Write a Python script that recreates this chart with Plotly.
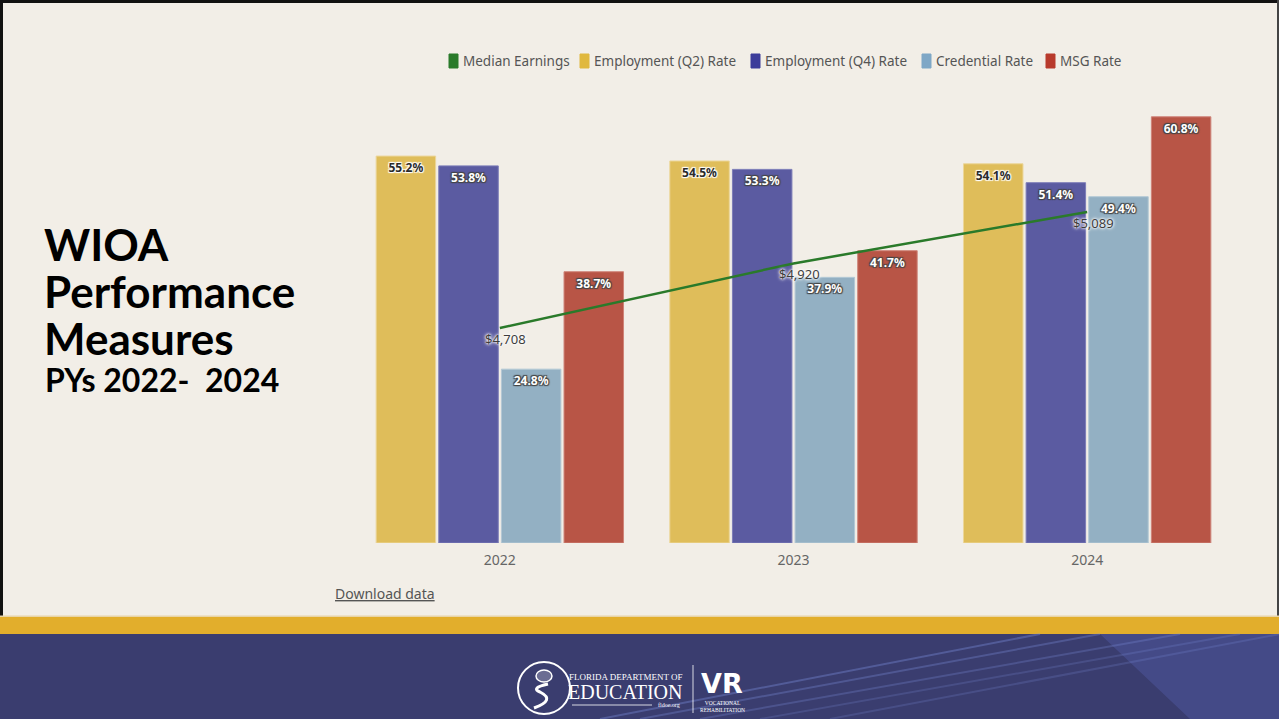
import plotly.graph_objects as go

years = ["2022", "2023", "2024"]
median_earnings = [4708, 4920, 5089]
emp_q2 = [55.2, 54.5, 54.1]
emp_q4 = [53.8, 53.3, 51.4]
credential = [24.8, 37.9, 49.4]
msg = [38.7, 41.7, 60.8]

legend_names = ["Median Earnings", "Employment (Q2) Rate", "Employment (Q4) Rate", "Credential Rate", "MSG Rate"]
series_names = legend_names[1:]
series_vals = [emp_q2, emp_q4, credential, msg]
bar_colors = ["#dfbd5a", "#5b5ba1", "#93b0c3", "#b85546"]
bar_lines = ["#ecd69a", "#7d7db8", "#b3c8d5", "#cf8479"]
text_colors = ["#2b2b2b", "#ffffff", "#ffffff", "#ffffff"]
green = "#2a7a2a"
legend_colors = [green, "#e0b83e", "#3d3d9a", "#7fa7c6", "#b83a2c"]

W, H = 1279, 719
BG = "#f2eee7"

fig = go.Figure()

for name, vals, c, lc, tc in zip(series_names, series_vals, bar_colors, bar_lines, text_colors):
    fig.add_trace(go.Bar(
        x=years, y=vals, name=name,
        marker=dict(color=c, line=dict(color=lc, width=1)),
        texttemplate="%{y:.1f}%", textposition="inside", insidetextanchor="end",
        textangle=0,
        textfont=dict(family="Noto Sans", size=12, color=tc, weight="bold", shadow="auto"),
        cliponaxis=False, showlegend=False,
    ))

fig.add_trace(go.Scatter(
    x=years, y=median_earnings, yaxis="y2", mode="lines", name="Median Earnings",
    line=dict(color=green, width=2.5), showlegend=False, cliponaxis=False,
))


def py(p):
    return 1 - p / H


def px(p):
    return p / W


annotations = []
# median earnings labels, placed through the data axes (category index on x)
for i, v in enumerate(median_earnings):
    annotations.append(dict(text=f"${v:,}", x=i, y=v, xref="x", yref="y2", showarrow=False,
                            xanchor="center", yanchor="middle", xshift=6, yshift=-11,
                            font=dict(family="Noto Sans", size=13, color="#3d3d3d",
                                      shadow="0px 0px 2px #ffffff, 0px 0px 3px #ffffff, 0px 0px 4px #ffffff")))

shapes = []
# border lines
shapes.append(dict(type="rect", xref="paper", yref="paper", x0=0, x1=px(3), y0=py(619), y1=1,
                   fillcolor="#111111", line=dict(width=0), layer="below"))
shapes.append(dict(type="rect", xref="paper", yref="paper", x0=0, x1=1, y0=py(3), y1=1,
                   fillcolor="#111111", line=dict(width=0), layer="below"))
shapes.append(dict(type="rect", xref="paper", yref="paper", x0=px(1277), x1=1, y0=py(619), y1=1,
                   fillcolor="#444444", line=dict(width=0), layer="below"))
# gold band
shapes.append(dict(type="rect", xref="paper", yref="paper", x0=0, x1=1, y0=py(634), y1=py(616),
                   fillcolor="#e2ae2c", line=dict(width=0), layer="below"))
shapes.append(dict(type="rect", xref="paper", yref="paper", x0=0, x1=1, y0=py(617), y1=py(615.5),
                   fillcolor="#e8d4a8", line=dict(width=0), layer="below"))
# navy band
shapes.append(dict(type="rect", xref="paper", yref="paper", x0=0, x1=1, y0=0, y1=py(634),
                   fillcolor="#3a3d6f", line=dict(width=0), layer="below"))
# lighter right region
shapes.append(dict(type="path", xref="paper", yref="paper",
                   path=f"M {px(1100)},{py(634)} L {px(1279)},{py(634)} L {px(1279)},0 L {px(1190)},0 Z",
                   fillcolor="rgba(90,100,180,0.35)", line=dict(width=0), layer="below"))
# diagonal stripes
for (xa, xb, op) in [(600, 1040, 0.35), (640, 1100, 0.3), (700, 1180, 0.25), (760, 1240, 0.2), (830, 1280, 0.2)]:
    shapes.append(dict(type="line", xref="paper", yref="paper", x0=px(xa), y0=0, x1=px(xb), y1=py(634),
                       line=dict(color=f"rgba(130,150,230,{op})", width=2), layer="below"))
# logo circle
shapes.append(dict(type="circle", xref="paper", yref="paper", x0=px(518), x1=px(570), y0=py(714), y1=py(662),
                   line=dict(color="white", width=2), fillcolor="rgba(0,0,0,0)", layer="above"))
shapes.append(dict(type="circle", xref="paper", yref="paper", x0=px(536), x1=px(552), y0=py(682), y1=py(670),
                   line=dict(color="white", width=1.5), fillcolor="rgba(255,255,255,0.25)", layer="above"))
shapes.append(dict(type="path", xref="paper", yref="paper",
                   path=f"M {px(534)},{py(708)} Q {px(556)},{py(700)} {px(540)},{py(692)} Q {px(530)},{py(688)} {px(548)},{py(684)}",
                   line=dict(color="white", width=3), layer="above"))
# divider
shapes.append(dict(type="line", xref="paper", yref="paper", x0=px(693), x1=px(693), y0=py(713), y1=py(665),
                   line=dict(color="rgba(255,255,255,0.8)", width=1), layer="above"))
shapes.append(dict(type="line", xref="paper", yref="paper", x0=px(572), x1=px(652), y0=py(705), y1=py(705),
                   line=dict(color="rgba(255,255,255,0.8)", width=1), layer="above"))

# manual legend (swatch + label)
legend_swatch_x = [449, 580, 751, 922, 1046]
for nm, col, sx in zip(legend_names, legend_colors, legend_swatch_x):
    shapes.append(dict(type="rect", xref="paper", yref="paper", x0=px(sx), x1=px(sx + 9),
                       y0=py(68), y1=py(54), fillcolor=col, line=dict(color=col, width=1), layer="above"))
    annotations.append(dict(text=nm, x=px(sx + 12), y=py(61), xref="paper", yref="paper",
                            xanchor="left", yanchor="middle", showarrow=False,
                            font=dict(family="Noto Sans", size=13.5, color="#555555")))

title_lines = ["WIOA", "Performance", "Measures"]
title_y = [244, 291, 338]
for t, ty in zip(title_lines, title_y):
    annotations.append(dict(text=f"<b>{t}</b>", x=px(42), y=py(ty), xref="paper", yref="paper",
                            xanchor="left", yanchor="middle", align="left", showarrow=False,
                            font=dict(family="Lato", size=44, color="#000000")))

annotations += [
    dict(text="<b>PYs 2022-  2024</b>", x=px(43), y=py(379), xref="paper", yref="paper",
         xanchor="left", yanchor="middle", align="left", showarrow=False,
         font=dict(family="Lato", size=32, color="#000000")),
    dict(text="<u>Download data</u>", x=px(333), y=py(593), xref="paper", yref="paper",
         xanchor="left", yanchor="middle", showarrow=False,
         font=dict(family="Noto Sans", size=14, color="#555555")),
    dict(text="FLORIDA DEPARTMENT OF", x=px(567), y=py(677), xref="paper", yref="paper",
         xanchor="left", yanchor="middle", showarrow=False,
         font=dict(family="Liberation Serif", size=9, color="white")),
    dict(text="EDUCATION", x=px(566), y=py(692), xref="paper", yref="paper",
         xanchor="left", yanchor="middle", showarrow=False,
         font=dict(family="Liberation Serif", size=20, color="white")),
    dict(text="fldoe.org", x=px(682), y=py(705), xref="paper", yref="paper",
         xanchor="right", yanchor="middle", showarrow=False,
         font=dict(family="Liberation Serif", size=6, color="white")),
    dict(text="<b>VR</b>", x=px(722), y=py(683), xref="paper", yref="paper",
         xanchor="center", yanchor="middle", showarrow=False,
         font=dict(family="DejaVu Sans", size=27, color="white")),
    dict(text="VOCATIONAL<br>REHABILITATION", x=px(722), y=py(706), xref="paper", yref="paper",
         xanchor="center", yanchor="middle", showarrow=False,
         font=dict(family="Liberation Serif", size=5.5, color="white")),
]

fig.update_layout(
    width=W, height=H,
    margin=dict(l=0, r=0, t=0, b=0, autoexpand=False),
    paper_bgcolor=BG, plot_bgcolor=BG,
    barmode="group", bargap=0.147, bargroupgap=0.05,
    showlegend=False,
    xaxis=dict(type="category", range=[-0.5, len(years) - 0.5], domain=[px(353), px(1234)],
               showgrid=False, zeroline=False, showline=False,
               ticks="", ticklabelstandoff=7, tickfont=dict(family="Noto Sans", size=14, color="#666666"),
               anchor="y", automargin=False),
    yaxis=dict(domain=[py(543), py(108.4)], range=[0, 62], visible=False, showgrid=False, automargin=False),
    yaxis2=dict(overlaying="y", range=[4002, 5429], visible=False, showgrid=False, automargin=False),
    shapes=shapes, annotations=annotations,
    font=dict(family="Noto Sans"),
)

fig.write_html("out.html")
